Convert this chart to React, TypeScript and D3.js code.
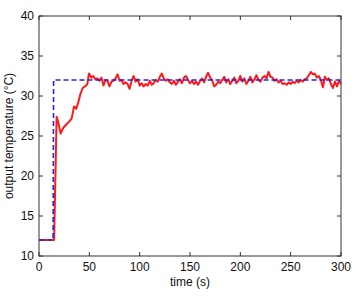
import React from "react";
import * as d3 from "d3";

const xTicks = [0, 50, 100, 150, 200, 250, 300];
const yTicks = [10, 15, 20, 25, 30, 35, 40];

const setpointTime = [0, 14, 14.5, 300];
const setpointTemp = [12, 12, 32, 32];

const outputTime = [
  0, 15, 17.5, 19, 21.5, 24, 27.5, 30, 32.5, 34.8, 37, 39, 41, 43.4, 46.7, 48, 49.6,
  52, 54, 56, 58, 60, 62, 64, 66, 68, 70, 72, 74, 76, 78, 80, 82, 84, 86, 88, 90,
  92, 94, 96, 98, 100, 102, 104, 106, 108, 110, 112, 114, 116, 118, 120, 122, 124,
  126, 128, 130, 132, 134, 136, 138, 140, 142, 144, 146, 148, 150, 152, 154, 156,
  158, 160, 162, 164, 166, 168, 170, 172, 174, 176, 178, 180, 182, 184, 186, 188,
  190, 192, 194, 196, 198, 200, 202, 204, 206, 208, 210, 212, 214, 216, 218, 220,
  222, 224, 226, 228, 230, 232, 234, 236, 238, 240, 242, 244, 246, 248, 250, 252,
  254, 256, 258, 260, 262, 264, 266, 268, 270, 272, 274, 276, 278, 280, 282, 284,
  286, 288, 290, 292, 294, 296, 298, 300,
];
const outputTemp = [
  12, 12, 27.4, 26.8, 25.3, 26.0, 26.5, 26.8, 27.2, 28.7, 28.4, 29.2, 30.2, 31.0, 31.3, 31.5, 32.8,
  32.3, 32.5, 32.1, 32.2, 31.9, 32.3, 31.3, 32.0, 31.9, 31.2, 31.8, 31.9, 32.2, 32.7, 31.9, 32.0, 31.5, 31.7, 31.5, 30.9,
  31.9, 32.5, 31.8, 32.1, 31.3, 31.6, 31.2, 31.5, 31.3, 31.9, 31.4, 31.6, 32.0, 31.8, 32.4, 32.8, 32.2,
  31.9, 32.1, 31.7, 31.5, 31.9, 31.4, 31.8, 32.1, 31.6, 32.3, 32.5, 32.0, 31.6, 31.9, 31.5, 31.8,
  31.4, 31.9, 32.2, 31.7, 32.4, 32.9, 32.3, 32.0, 31.2, 31.4, 31.8, 31.6, 32.0, 32.4, 31.7, 32.1,
  31.5, 31.9, 32.3, 31.6, 31.9, 32.5, 31.8, 32.2, 31.5, 31.9, 32.4, 31.7, 32.1, 32.6, 32.0, 31.8,
  32.3, 32.5, 32.2, 33.0, 32.4, 32.3, 31.9, 32.1, 31.7, 31.9, 31.5, 31.6, 31.4, 31.7, 31.5, 31.8,
  31.6, 31.9, 31.7, 32.0, 31.8, 32.1, 32.2, 32.6, 33.0, 32.7, 32.8, 32.3, 32.5, 32.0, 31.1, 32.4,
  32.0, 32.2, 31.5, 31.0, 31.8, 31.2, 31.9, 31.5,
];

const W = 361;
const H = 296;
const M = { left: 39, right: 20, top: 16, bottom: 40 };

export default function App() {
  const x = d3.scaleLinear().domain([0, 300]).range([M.left, W - M.right]);
  const y = d3.scaleLinear().domain([10, 40]).range([H - M.bottom, M.top]);
  const line = d3
    .line<[number, number]>()
    .x((d) => x(d[0]))
    .y((d) => y(d[1]));
  const sp = setpointTime.map((t, i) => [t, setpointTemp[i]] as [number, number]);
  const out = outputTime.map((t, i) => [t, outputTemp[i]] as [number, number]);
  const x0 = x(0), x1 = x(300), y0 = y(10), y1 = y(40);
  const font = "'Liberation Sans', Arial, sans-serif";
  const tl = 4;
  return (
    <svg
      width={W}
      height={H}
      style={{ position: "absolute", left: 0, top: 0, background: "#fff" }}
      fontFamily={font}
    >
      <rect x={0} y={0} width={W} height={H} fill="#fff" />
      <path d={line(out) || ""} fill="none" stroke="#ff1a1a" strokeWidth={2} strokeLinejoin="round" />
      <path d={line(sp) || ""} fill="none" stroke="#2424e0" strokeWidth={1.6} strokeDasharray="5,3" />
      <rect x={x0} y={y1} width={x1 - x0} height={y0 - y1} fill="none" stroke="#333" strokeWidth={1} />
      {xTicks.map((t) => (
        <g key={"x" + t}>
          <line x1={x(t)} x2={x(t)} y1={y0} y2={y0 - tl} stroke="#333" />
          <line x1={x(t)} x2={x(t)} y1={y1} y2={y1 + tl} stroke="#333" />
          <text x={x(t)} y={y0 + 15} fontSize={12} textAnchor="middle" fill="#111">
            {t}
          </text>
        </g>
      ))}
      {yTicks.map((t) => (
        <g key={"y" + t}>
          <line x1={x0} x2={x0 + tl} y1={y(t)} y2={y(t)} stroke="#333" />
          <line x1={x1} x2={x1 - tl} y1={y(t)} y2={y(t)} stroke="#333" />
          <text x={x0 - 5} y={y(t) + 4} fontSize={12} textAnchor="end" fill="#111">
            {t}
          </text>
        </g>
      ))}
      <text x={(x0 + x1) / 2} y={y0 + 30} fontSize={12} textAnchor="middle" fill="#111">
        time (s)
      </text>
      <text
        transform={`translate(13,${(y0 + y1) / 2}) rotate(-90)`}
        fontSize={12}
        textAnchor="middle"
        fill="#111"
      >
        output temperature (°C)
      </text>
    </svg>
  );
}
